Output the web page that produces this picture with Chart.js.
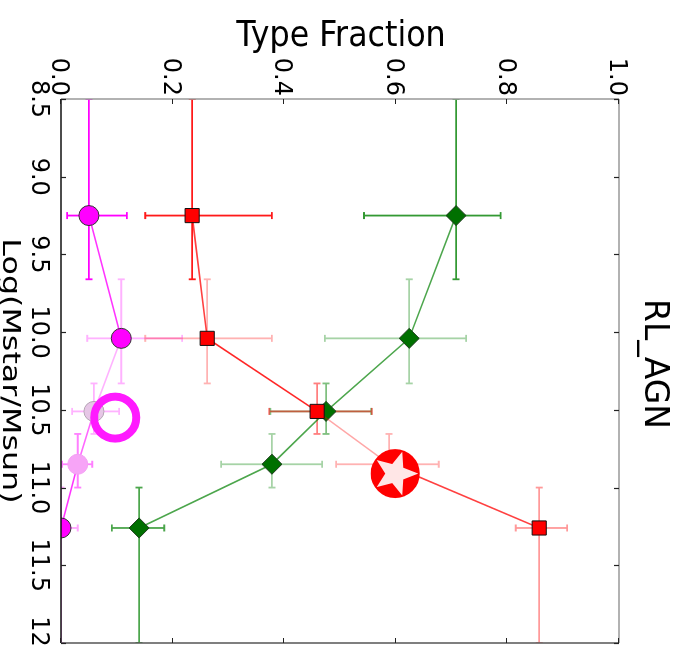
<!DOCTYPE html>
<html>
<head>
<meta charset="utf-8">
<script src="https://cdn.jsdelivr.net/npm/chart.js@4.4.1/dist/chart.umd.min.js"></script>
<style>
  html, body { margin: 0; padding: 0; background: #fff; overflow: hidden; }
  /* The plot is laid out upright and then turned a quarter turn clockwise */
  #wrap {
    position: absolute; left: 0; top: 0;
    width: 648px; height: 689px;
    transform-origin: 0 0;
    transform: translate(689px, 0) rotate(90deg);
  }
  canvas { display: block; }
</style>
</head>
<body>
<div id="wrap"><canvas id="c" width="648" height="689"></canvas></div>
<script>
// Stellar-mass bins: plotted mass and bin edges, log(Mstar/Msun)
const massValues = [9.25, 10.04, 10.51, 10.85, 11.26];
const massLow    = [8.5, 9.66, 10.33, 10.655, 11.0];
const massHigh   = [9.66, 10.33, 10.655, 11.0, 12.0];

// Type fractions per bin with their lower / upper limits
const magentaFrac = [0.050, 0.108, 0.059, 0.030, 0.000];
const magentaLow  = [0.011, 0.047, 0.020, 0.002, 0.000];
const magentaHigh = [0.118, 0.217, 0.104, 0.056, 0.030];

const redFrac = [0.235, 0.262, 0.459, 0.588, 0.857];
const redLow  = [0.151, 0.151, 0.373, 0.493, 0.815];
const redHigh = [0.378, 0.378, 0.557, 0.677, 0.907];

const greenFrac = [0.708, 0.624, 0.475, 0.378, 0.140];
const greenLow  = [0.543, 0.473, 0.375, 0.287, 0.091];
const greenHigh = [0.788, 0.726, 0.556, 0.468, 0.185];

// Axis ticks
const massTicks = [8.5, 9.0, 9.5, 10.0, 10.5, 11.0, 11.5, 12.0];
const massTickLabels = ['8.5', '9.0', '9.5', '10.0', '10.5', '11.0', '11.5', '12.0'];
const fracTicks = [0.0, 0.2, 0.4, 0.6, 0.8, 1.0];
const fracTickLabels = ['0.0', '0.2', '0.4', '0.6', '0.8', '1.0'];

// Highlight marks (mass, fraction)
const ringMark = [10.55, 0.097];
const starMark = [10.91, 0.599];

const titleText = 'RL_AGN';
const xTitle = 'Log(Mstar/Msun)';
const yTitle = 'Type Fraction';

// ---- styling ----
const FONT = '"DejaVu Sans", "Liberation Sans", sans-serif';
const rgba = (rgb, a) => `rgba(${rgb[0]},${rgb[1]},${rgb[2]},${a})`;

const series = [
  { // drawn on top
    name: 'red', rgb: [255, 0, 0], frac: redFrac, lo: redLow, hi: redHigh,
    pointStyle: 'rect', radius: 10,
    fill: ['#ff0000', '#ff0000', '#ff0000', '#ff0000', '#ff0000'],
    edge: ['#111', '#111', '#111', '#111', '#111'],
    errAlpha: [0.9, 0.3, 0.5, 0.3, 0.4],
    lineAlpha: [0.75, 0.85, 0.35, 0.75]
  },
  {
    name: 'green', rgb: [0, 128, 0], frac: greenFrac, lo: greenLow, hi: greenHigh,
    pointStyle: 'rectRot', radius: 10,
    fill: ['#007000', '#007000', '#007000', '#007000', '#007000'],
    edge: ['#1c3a1c', '#1c3a1c', '#1c3a1c', '#1c3a1c', '#1c3a1c'],
    errAlpha: [0.8, 0.35, 0.5, 0.35, 0.7],
    lineAlpha: [0.7, 0.7, 0.7, 0.7]
  },
  {
    name: 'magenta', rgb: [255, 0, 255], frac: magentaFrac, lo: magentaLow, hi: magentaHigh,
    pointStyle: 'circle', radius: 10,
    fill: ['#ff00ff', '#ff00ff', '#e6c6e6', '#f7a4f7', '#ff00ff'],
    edge: ['#333', '#333', '#b5a5b5', '#f3a0f3', '#333'],
    errAlpha: [1.0, 0.3, 0.3, 0.5, 0.35],
    lineAlpha: [0.8, 0.3, 0.6, 0.8]
  }
];

const datasets = series.map(s => ({
  label: s.name,
  data: massValues.map((m, i) => ({ x: m, y: s.frac[i] })),
  showLine: true,
  borderWidth: 1.6,
  borderColor: rgba(s.rgb, 0.7),
  segment: { borderColor: c => rgba(s.rgb, s.lineAlpha[c.p0DataIndex]) },
  pointStyle: s.pointStyle,
  pointRadius: s.radius,
  pointBackgroundColor: s.fill,
  pointBorderColor: s.edge,
  pointBorderWidth: 1,
  clip: 0
}));

function text(ctx, str, x, y, opt) {
  ctx.save();
  ctx.translate(x, y);
  if (opt.rotate) ctx.rotate(opt.rotate);
  ctx.scale(opt.sx || 1, 1);
  ctx.font = opt.font;
  ctx.textAlign = opt.align || 'center';
  ctx.textBaseline = 'alphabetic';
  ctx.fillStyle = opt.color || '#000';
  ctx.fillText(str, 0, 0);
  ctx.restore();
}

const decor = {
  id: 'decor',
  beforeDatasetsDraw(chart) {
    // error bars with caps, clipped to the axes box
    const { ctx, chartArea: a, scales: { x, y } } = chart;
    ctx.save();
    ctx.beginPath();
    ctx.rect(a.left, a.top, a.right - a.left, a.bottom - a.top);
    ctx.clip();
    ctx.lineWidth = 1.8;
    const cap = 3.5;
    [...series].reverse().forEach(s => {
      massValues.forEach((m, i) => {
        ctx.strokeStyle = rgba(s.rgb, s.errAlpha[i]);
        const px = x.getPixelForValue(m);
        const py = y.getPixelForValue(s.frac[i]);
        const x0 = x.getPixelForValue(massLow[i]);
        const x1 = x.getPixelForValue(massHigh[i]);
        const y0 = y.getPixelForValue(s.lo[i]);
        const y1 = y.getPixelForValue(s.hi[i]);
        ctx.beginPath();
        ctx.moveTo(x0, py); ctx.lineTo(x1, py);
        ctx.moveTo(x0, py - cap); ctx.lineTo(x0, py + cap);
        ctx.moveTo(x1, py - cap); ctx.lineTo(x1, py + cap);
        ctx.moveTo(px, y0); ctx.lineTo(px, y1);
        ctx.moveTo(px - cap, y0); ctx.lineTo(px + cap, y0);
        ctx.moveTo(px - cap, y1); ctx.lineTo(px + cap, y1);
        ctx.stroke();
      });
    });
    ctx.restore();
  },
  afterDatasetsDraw(chart) {
    const { ctx, chartArea: a, scales: { x, y } } = chart;
    ctx.save();
    // axes box
    ctx.lineWidth = 1.5;
    ctx.strokeStyle = '#111';
    ctx.beginPath(); ctx.moveTo(a.left, a.bottom); ctx.lineTo(a.right, a.bottom); ctx.stroke();
    ctx.strokeStyle = '#999';
    ctx.beginPath(); ctx.moveTo(a.left, a.top); ctx.lineTo(a.left, a.bottom); ctx.stroke();
    ctx.beginPath(); ctx.moveTo(a.left, a.top); ctx.lineTo(a.right, a.top); ctx.stroke();
    ctx.strokeStyle = '#555';
    ctx.beginPath(); ctx.moveTo(a.right, a.top); ctx.lineTo(a.right, a.bottom); ctx.stroke();

    // inward tick marks on all four sides
    const tl = 5;
    ctx.lineWidth = 1.2;
    ctx.strokeStyle = '#222';
    ctx.beginPath();
    massTicks.forEach(m => {
      const px = Math.round(x.getPixelForValue(m)) + 0.5;
      ctx.moveTo(px, a.bottom); ctx.lineTo(px, a.bottom - tl);
      ctx.moveTo(px, a.top); ctx.lineTo(px, a.top + tl);
    });
    fracTicks.forEach(f => {
      const py = Math.round(y.getPixelForValue(f)) + 0.5;
      ctx.moveTo(a.left, py); ctx.lineTo(a.left + tl, py);
      ctx.moveTo(a.right, py); ctx.lineTo(a.right - tl, py);
    });
    ctx.stroke();

    // tick labels
    const tf = `24px ${FONT}`;
    massTicks.forEach((m, i) => {
      text(ctx, massTickLabels[i], x.getPixelForValue(m), a.bottom + 29, { font: tf });
    });
    fracTicks.forEach((f, i) => {
      text(ctx, fracTickLabels[i], a.left - 3, y.getPixelForValue(f) + 8.7, { font: tf, align: 'right' });
    });

    // axis titles and plot title
    const cx = (a.left + a.right) / 2, cy = (a.top + a.bottom) / 2;
    text(ctx, xTitle, cx, chart.height - 3, { font: `25px ${FONT}`, sx: 1.27 });
    text(ctx, yTitle, 46, cy - 1, { font: `36px ${FONT}`, rotate: -Math.PI / 2, sx: 0.88 });
    text(ctx, titleText, cx - 7, 44, { font: `33px ${FONT}` });

    // highlight marks
    const rx = x.getPixelForValue(ringMark[0]), ry = y.getPixelForValue(ringMark[1]);
    ctx.beginPath();
    ctx.arc(rx, ry, 21, 0, Math.PI * 2);
    ctx.lineWidth = 8;
    ctx.strokeStyle = '#ff1aff';
    ctx.stroke();

    const sxp = x.getPixelForValue(starMark[0]), syp = y.getPixelForValue(starMark[1]);
    ctx.beginPath();
    ctx.arc(sxp, syp, 24.5, 0, Math.PI * 2);
    ctx.fillStyle = '#ff0000';
    ctx.fill();
    ctx.beginPath();
    for (let k = 0; k < 10; k++) {
      const r = k % 2 === 0 ? 23 : 10;
      const ang = -Math.PI / 2 + k * Math.PI / 5;
      const px = sxp + r * Math.cos(ang), py = syp + r * Math.sin(ang);
      if (k === 0) ctx.moveTo(px, py); else ctx.lineTo(px, py);
    }
    ctx.closePath();
    ctx.fillStyle = 'rgba(255,255,255,0.9)';
    ctx.fill();
    ctx.restore();
  }
};

new Chart(document.getElementById('c'), {
  type: 'scatter',
  data: { datasets },
  options: {
    responsive: false,
    animation: false,
    devicePixelRatio: 1,
    events: [],
    layout: { autoPadding: false, padding: { left: 99, right: 5, top: 70, bottom: 61 } },
    plugins: { legend: { display: false }, tooltip: { enabled: false } },
    scales: {
      x: { type: 'linear', min: 8.5, max: 12, display: false },
      y: { type: 'linear', min: 0, max: 1, display: false }
    }
  },
  plugins: [decor]
});
</script>
</body>
</html>
